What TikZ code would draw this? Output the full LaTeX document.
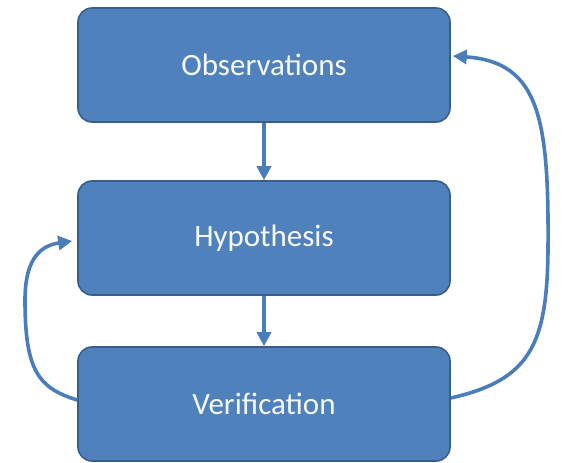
\documentclass[tikz,border=0pt]{standalone}
\usepackage{fontspec}
\setmainfont{Carlito}
\usetikzlibrary{arrows.meta}

\definecolor{boxBlue}{HTML}{4F81BD}
\definecolor{boxEdge}{HTML}{385D8A}
\definecolor{arrowBlue}{HTML}{4A7EBB}

\tikzset{
	stageBox/.style={rectangle, rounded corners=14pt, fill=boxBlue, draw=boxEdge, line width=1.6pt,
		minimum width=372pt, minimum height=114pt, text=white!95!boxBlue,
		font=\fontsize{31}{36}\selectfont},
	flowArrow/.style={draw=arrowBlue, line width=3.6pt, -{Triangle[length=14pt,width=14pt]}}
}

\begin{document}
\begin{tikzpicture}[x=1pt,y=-1pt]
	\useasboundingbox (0,0) rectangle (568,463);	% page size of the reference
	
	% the three stages
	\node[stageBox] (obs) at (264,65)  {Observations};
	\node[stageBox] (hyp) at (264,238) {Hypothesis};
	\node[stageBox] (ver) at (264,404) {Verification};
	
	% straight arrows down
	\draw[flowArrow] (obs) -- (hyp);
	\draw[flowArrow] (hyp) -- (ver);
	
	% loop back to observations
	\draw[flowArrow] ([yshift=6pt]ver.east) .. controls (530,380) and (547,345) .. (548,250)
		.. controls (549,120) and (540,62) .. ([yshift=9pt,xshift=2pt]obs.east);
	
	% loop back to hypothesis
	\draw[flowArrow] ([yshift=4pt]ver.west) .. controls (38,388) and (25,370) .. (25,300)
		.. controls (25,262) and (38,246) .. ([yshift=-3pt,xshift=-5pt]hyp.west);
\end{tikzpicture}
\end{document}
